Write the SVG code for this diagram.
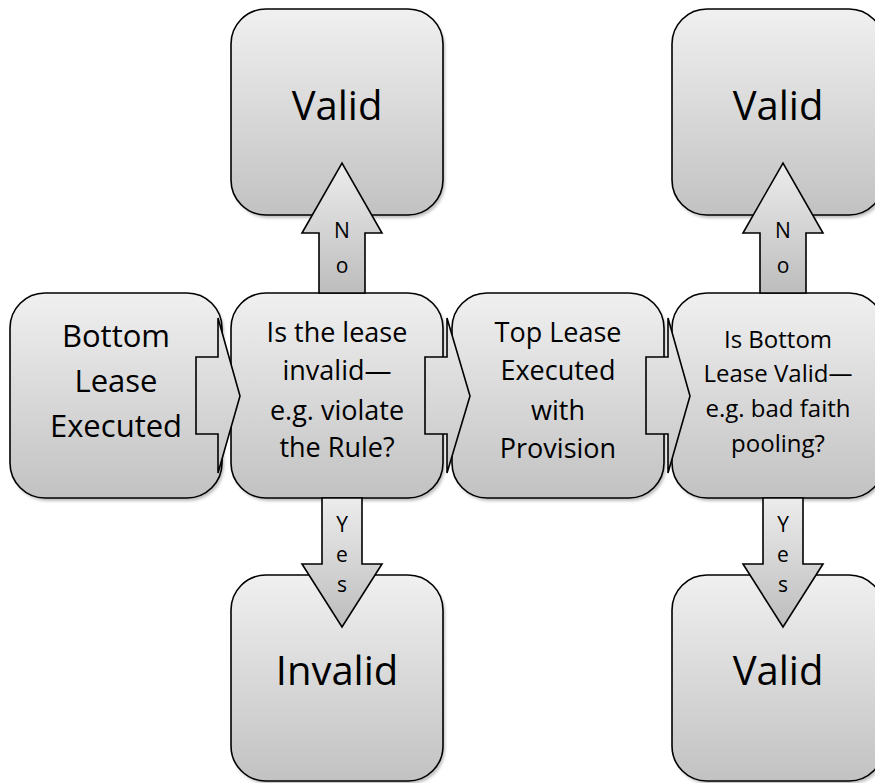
<svg xmlns="http://www.w3.org/2000/svg" width="875" height="783" viewBox="0 0 875 783">
<defs>
<linearGradient id="g" x1="0" y1="0" x2="0" y2="1">
<stop offset="0" stop-color="#f0f0f0"/>
<stop offset="1" stop-color="#c2c2c2"/>
</linearGradient>
<linearGradient id="gm" gradientUnits="userSpaceOnUse" x1="0" y1="293" x2="0" y2="498">
<stop offset="0" stop-color="#f0f0f0"/>
<stop offset="1" stop-color="#c2c2c2"/>
</linearGradient>
<linearGradient id="gup" x1="0" y1="0" x2="0" y2="1">
<stop offset="0" stop-color="#ececec"/>
<stop offset="1" stop-color="#bdbdbd"/>
</linearGradient>
<linearGradient id="gdn" x1="0" y1="0" x2="0" y2="1">
<stop offset="0" stop-color="#ececec"/>
<stop offset="1" stop-color="#bdbdbd"/>
</linearGradient>
<filter id="sh" x="-10%" y="-10%" width="120%" height="120%">
<feGaussianBlur stdDeviation="1.5"/>
</filter>
</defs>
<style>
.box{fill:url(#g);stroke:#000;stroke-width:1.6}
.shadow{fill:#888;opacity:0.55;filter:url(#sh)}
.arr{stroke:#000;stroke-width:1.6;stroke-linejoin:miter}
text{font-family:"Open Sans","Liberation Sans",sans-serif;fill:#000;text-anchor:middle}
.big{font-size:40px}
.m1{font-size:31px}
.m2{font-size:27px}
.m4{font-size:24px}
.lbl{font-size:21px}
</style>

<g id="valid-top-1">
<rect class="shadow" x="233" y="12" width="212" height="206" rx="35"/>
<rect class="box" x="231" y="9" width="212" height="206" rx="35"/>
<text class="big" x="337" y="120">Valid</text>
</g>
<g id="valid-top-2">
<rect class="shadow" x="674" y="12" width="212" height="206" rx="35"/>
<rect class="box" x="672" y="9" width="212" height="206" rx="35"/>
<text class="big" x="778" y="120">Valid</text>
</g>
<g id="invalid-bottom-1">
<rect class="shadow" x="233" y="578" width="212" height="206" rx="35"/>
<rect class="box" x="231" y="575" width="212" height="206" rx="35"/>
<text class="big" x="337" y="685">Invalid</text>
</g>
<g id="valid-bottom-2">
<rect class="shadow" x="674" y="578" width="212" height="206" rx="35"/>
<rect class="box" x="672" y="575" width="212" height="206" rx="35"/>
<text class="big" x="778" y="685">Valid</text>
</g>

<g id="bottom-lease">
<rect class="shadow" x="12" y="296" width="212" height="205" rx="35"/>
<rect class="box" x="10" y="293" width="212" height="205" rx="35"/>
<text class="m1" x="116" y="347">Bottom</text>
<text class="m1" x="116" y="392">Lease</text>
<text class="m1" x="116" y="437">Executed</text>
</g>
<g id="is-invalid">
<rect class="shadow" x="233" y="296" width="212" height="205" rx="35"/>
<rect class="box" x="231" y="293" width="212" height="205" rx="35"/>
<text class="m2" x="337" y="342">Is the lease</text>
<text class="m2" x="337" y="380">invalid—</text>
<text class="m2" x="337" y="420">e.g. violate</text>
<text class="m2" x="337" y="457">the Rule?</text>
</g>
<g id="top-lease">
<rect class="shadow" x="454" y="296" width="212" height="205" rx="35"/>
<rect class="box" x="452" y="293" width="212" height="205" rx="35"/>
<text class="m2" x="558" y="342">Top Lease</text>
<text class="m2" x="558" y="380">Executed</text>
<text class="m2" x="558" y="420">with</text>
<text class="m2" x="558" y="458">Provision</text>
</g>
<g id="is-valid">
<rect class="shadow" x="674" y="296" width="212" height="205" rx="35"/>
<rect class="box" x="672" y="293" width="212" height="205" rx="35"/>
<text class="m4" x="778" y="348">Is Bottom</text>
<text class="m4" x="778" y="382">Lease Valid—</text>
<text class="m4" x="778" y="417">e.g. bad faith</text>
<text class="m4" x="778" y="452">pooling?</text>
</g>

<g id="connectors">
<path class="arr" fill="url(#gm)" d="M196,357 H218 V318 L240,396 L218,473 V434 H196 Z"/>
<path class="arr" fill="url(#gm)" d="M425,357 H447 V318 L470,396 L447,473 V434 H425 Z"/>
<path class="arr" fill="url(#gm)" d="M646,357 H668 V318 L690,396 L668,473 V434 H646 Z"/>

<path class="arr" fill="url(#gup)" d="M319,293 V233 H302 L342,163 L382,233 H365 V293 Z"/>
<text class="lbl" x="342" y="238">N</text>
<text class="lbl" x="342" y="273">o</text>
<path class="arr" fill="url(#gup)" d="M760,293 V233 H743 L783,163 L823,233 H806 V293 Z"/>
<text class="lbl" x="783" y="238">N</text>
<text class="lbl" x="783" y="273">o</text>

<path class="arr" fill="url(#gdn)" d="M322,498 V564 H302 L342,627 L382,564 H362 V498 Z"/>
<text class="lbl" x="342" y="532">Y</text>
<text class="lbl" x="342" y="562">e</text>
<text class="lbl" x="342" y="592">s</text>
<path class="arr" fill="url(#gdn)" d="M763,498 V564 H743 L783,627 L823,564 H803 V498 Z"/>
<text class="lbl" x="783" y="532">Y</text>
<text class="lbl" x="783" y="562">e</text>
<text class="lbl" x="783" y="592">s</text>
</g>
</svg>
